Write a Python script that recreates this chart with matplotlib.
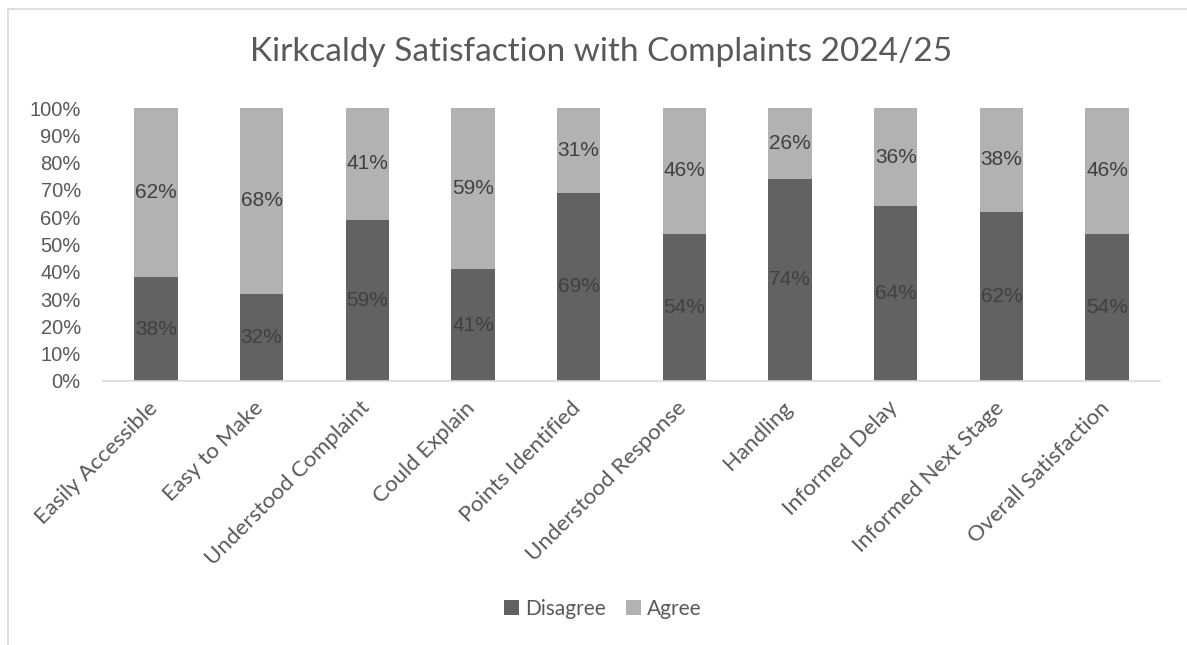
import matplotlib.pyplot as plt
import numpy as np
from matplotlib.patches import Rectangle
from matplotlib.ticker import PercentFormatter
from matplotlib.transforms import ScaledTranslation

categories = ['Easily Accessible', 'Easy to Make', 'Understood Complaint', 'Could Explain',
              'Points Identified', 'Understood Response', 'Handling', 'Informed Delay',
              'Informed Next Stage', 'Overall Satisfaction']
disagree = [38, 32, 59, 41, 69, 54, 74, 64, 62, 54]
agree = [62, 68, 41, 59, 31, 46, 26, 36, 38, 46]

dark = '#626262'
light = '#b2b2b2'
txt = '#595959'
lbl = '#404040'

plt.rcParams['font.family'] = ['Liberation Sans', 'DejaVu Sans']

fig = plt.figure(figsize=(11.87, 6.45), dpi=100)
fig.patches.append(Rectangle((8 / 1187, -0.1), 1.2, 1 - 9 / 645 + 0.1, transform=fig.transFigure,
                             fill=False, edgecolor='#d9d9d9', linewidth=1.2))
ax = fig.add_axes([103 / 1187, 1 - 381 / 645, (1160 - 103) / 1187, (381 - 108) / 645])

x = np.arange(len(categories))
b1 = ax.bar(x, disagree, width=0.41, color=dark, label='Disagree')
b2 = ax.bar(x, agree, width=0.41, bottom=disagree, color=light, label='Agree')

for bars, vals, bottoms in [(b1, disagree, [0] * len(x)), (b2, agree, disagree)]:
    for i, (v, b) in enumerate(zip(vals, bottoms)):
        ax.text(x[i], b + v / 2, f'{v}%', ha='center', va='center', fontsize=15, color=lbl)

ax.set_xlim(-0.5, len(x) - 0.5)
ax.set_ylim(0, 100)
ax.set_yticks(range(0, 101, 10))
ax.yaxis.set_major_formatter(PercentFormatter(decimals=0))
ax.set_xticks(x)
ax.set_xticklabels(categories, rotation=45, ha='right', rotation_mode='anchor',
                   family=['Lato', 'DejaVu Sans'], fontsize=16)
ax.tick_params(axis='both', length=0, labelcolor=txt)
ax.tick_params(axis='y', labelsize=14.5, pad=16)
ax.tick_params(axis='x', pad=12)
shift = ScaledTranslation(-8 / 100, 0, fig.dpi_scale_trans)
for t in ax.get_xticklabels():
    t.set_transform(t.get_transform() + shift)
for s in ['top', 'right', 'left']:
    ax.spines[s].set_visible(False)
ax.spines['bottom'].set_color('#d9d9d9')
ax.spines['bottom'].set_linewidth(1.2)

fig.text(0.506, 1 - 52 / 645, 'Kirkcaldy Satisfaction with Complaints 2024/25', ha='center', va='center',
         fontsize=24, color=txt, family=['Lato', 'DejaVu Sans'])
fig.legend(loc='center', bbox_to_anchor=(0.508, 1 - 609 / 645), ncol=2, frameon=False,
           labelcolor=txt, handlelength=0.7, handleheight=0.7, handletextpad=0.3,
           columnspacing=1.0, prop={'family': ['Lato', 'DejaVu Sans'], 'size': 15})

fig.savefig('out.png', dpi=100)
